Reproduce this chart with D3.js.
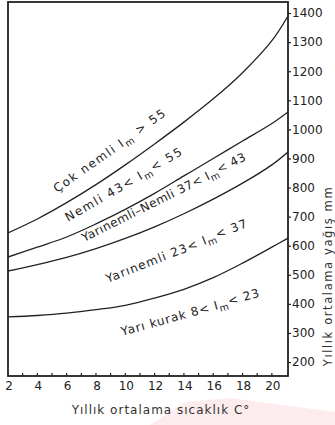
<!DOCTYPE html>
<html>
<head>
<meta charset="utf-8">
<script src="https://cdn.jsdelivr.net/npm/d3@7"></script>
<style>
  body { margin: 0; background: #fff; }
  svg { display: block; font-family: "DejaVu Sans", sans-serif; }
</style>
</head>
<body>
<svg id="chart" width="335" height="425"></svg>
<script>
// boundary curves (x = annual mean temperature C, y = annual mean precipitation mm)
const temps = [2, 4, 6, 8, 10, 12, 14, 16, 18, 20, 21.1];
const im55 = [644, 692, 748, 810, 878, 950, 1025, 1105, 1195, 1305, 1390];
const im43 = [561, 595, 630, 675, 725, 780, 840, 900, 960, 1020, 1060];
const im37 = [513, 535, 560, 590, 625, 665, 710, 760, 815, 878, 922];
const im23 = [355, 360, 368, 380, 395, 420, 450, 490, 540, 595, 626];

const yTicks = [200, 300, 400, 500, 600, 700, 800, 900, 1000, 1100, 1200, 1300, 1400];
const xLabels = [2, 4, 6, 8, 10, 12, 14, 16, 18, 20];
const xMinor = [3, 4, 5, 6, 7, 8, 9, 10, 11, 12, 13, 14, 15, 16, 17, 18, 19, 20];

// zone labels: text before the subscript, after it, and an anchor in data units
const zoneNames = ["Çok nemli I", "Nemli 43< I", "Yarınemli–Nemli 37< I", "Yarınemli 23< I", "Yarı kurak 8< I"];
const zoneTail = [" > 55", "< 55", "< 43", "< 37", "< 23"];
const zoneT = [5.35, 6.1, 7.2, 8.8, 9.8];
const zoneV = [781, 682, 613, 472, 290];
// label styling (angle along the curve, length of the lettering)
const zoneAngle = [-35, -30, -26.5, -21.5, -15.5];
const zoneLen = [134, 133, 182, 151, 143];

const margin = { top: 2, right: 47, bottom: 49, left: 8 },
  width = 335, height = 425;

const x_scale = d3.scaleLinear().domain([2, 21.1]).range([margin.left, width - margin.right]);
const y_scale = d3.scaleLinear().domain([152, 1438]).range([height - margin.bottom, margin.top]);

const svg = d3.select('#chart');

// faint pink watermark at the bottom of the scan
svg.append('path')
  .attr('d', 'M150,425 L185,402 L230,398 L275,404 L335,412 L335,425 Z')
  .attr('fill', '#fcecee');

svg.append('defs').append('clipPath').attr('id', 'frame')
  .append('rect')
  .attr('x', x_scale(2)).attr('y', y_scale(1438))
  .attr('width', x_scale(21.1) - x_scale(2))
  .attr('height', y_scale(152) - y_scale(1438));

// curves
const lineGen = d3.line()
  .x((d, i) => x_scale(temps[i]))
  .y(d => y_scale(d))
  .curve(d3.curveCatmullRom);

svg.append('g').attr('clip-path', 'url(#frame)')
  .selectAll('path').data([im55, im43, im37, im23]).join('path')
  .attr('d', d => lineGen(d))
  .attr('fill', 'none')
  .attr('stroke', '#222')
  .attr('stroke-width', 1.3);

// frame
svg.append('rect')
  .attr('x', x_scale(2)).attr('y', y_scale(1438))
  .attr('width', x_scale(21.1) - x_scale(2))
  .attr('height', y_scale(152) - y_scale(1438))
  .attr('fill', 'none').attr('stroke', '#222').attr('stroke-width', 1.8);

// x axis: inward ticks every degree
svg.append('g').selectAll('line').data(xMinor).join('line')
  .attr('x1', d => x_scale(d)).attr('x2', d => x_scale(d))
  .attr('y1', y_scale(152)).attr('y2', y_scale(152) - 3)
  .attr('stroke', '#222').attr('stroke-width', 1.2);

svg.append('g').selectAll('text').data(xLabels).join('text')
  .attr('x', d => x_scale(d) + 1)
  .attr('y', y_scale(152) + 14)
  .attr('text-anchor', 'middle')
  .style('font-size', '12px').style('fill', '#222')
  .text(d => d);

// y axis on the right
const yAxis = svg.append('g')
  .attr('transform', `translate(${x_scale(21.1)},0)`)
  .call(d3.axisRight(y_scale).tickValues(yTicks).tickFormat(d3.format('d')).tickSize(3).tickPadding(1));
yAxis.select('.domain').remove();
yAxis.selectAll('line').attr('stroke', '#222').attr('stroke-width', 1.2);
yAxis.selectAll('text').style('font-size', '12px').style('font-family', '"DejaVu Sans", sans-serif').attr('fill', '#222');

// axis titles
svg.append('text')
  .attr('x', 161).attr('y', 414)
  .attr('text-anchor', 'middle')
  .style('font-size', '12px').style('letter-spacing', '1px').style('fill', '#333')
  .text('Yıllık ortalama sıcaklık C°');

svg.append('text')
  .attr('transform', 'translate(332,276) rotate(-90)')
  .attr('text-anchor', 'middle')
  .style('font-size', '11.5px').style('letter-spacing', '1.6px').style('fill', '#333')
  .text('Yıllık ortalama yağış mm');

// zone labels along the curves
const labels = svg.append('g').selectAll('text').data(zoneNames).join('text')
  .attr('transform', (d, i) => `translate(${x_scale(zoneT[i])},${y_scale(zoneV[i])}) rotate(${zoneAngle[i]})`)
  .attr('textLength', (d, i) => zoneLen[i])
  .attr('lengthAdjust', 'spacing')
  .style('font-size', '12px').style('fill', '#222');
labels.append('tspan').text(d => d);
labels.append('tspan').attr('dy', 3).style('font-size', '9.5px').text('m');
labels.append('tspan').attr('dy', -4).text((d, i) => zoneTail[i]);
</script>
</body>
</html>
